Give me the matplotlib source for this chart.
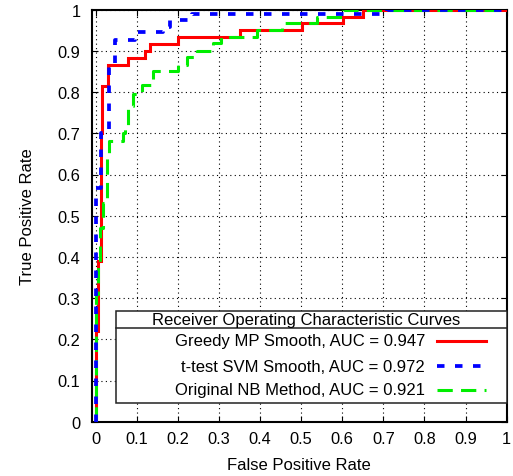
import matplotlib
matplotlib.use("Agg")
import matplotlib.pyplot as plt
from matplotlib.lines import Line2D
from matplotlib.patches import Rectangle

plt.rcParams['font.family'] = ['Liberation Sans', 'DejaVu Sans']

# ROC step vertices (FPR, TPR)
greedy_fpr = [0, 0, 0.006, 0.013, 0.016, 0.031, 0.080, 0.120, 0.132, 0.200, 0.351, 0.501, 0.601, 0.650, 1.0]
greedy_tpr = [0, 0.22, 0.39, 0.70, 0.816, 0.866, 0.882, 0.900, 0.917, 0.933, 0.950, 0.967, 0.983, 1.0, 1.0]

svm_fpr = [0, 0, 0.014, 0.032, 0.048, 0.097, 0.165, 0.180, 0.234, 0.710, 1.0]
svm_tpr = [0, 0.567, 0.70, 0.861, 0.926, 0.947, 0.959, 0.974, 0.990, 1.0, 1.0]

nb_fpr = [0.002, 0.002, 0.006, 0.011, 0.018, 0.027, 0.032, 0.066, 0.072, 0.079, 0.092, 0.112,
          0.139, 0.200, 0.222, 0.246, 0.286, 0.305, 0.393, 0.454, 0.539, 0.601, 1.0]
nb_tpr = [0, 0.31, 0.38, 0.47, 0.53, 0.65, 0.682, 0.70, 0.715, 0.767, 0.795, 0.817,
          0.852, 0.866, 0.885, 0.900, 0.918, 0.933, 0.951, 0.967, 0.983, 1.0, 1.0]

labels = ["Greedy MP Smooth, AUC = 0.947",
          "t-test SVM Smooth, AUC = 0.972",
          "Original NB Method, AUC = 0.921"]
legend_title = "Receiver Operating Characteristic Curves"
ticks = [0, 0.1, 0.2, 0.3, 0.4, 0.5, 0.6, 0.7, 0.8, 0.9, 1.0]
tick_labels = ["0", "0.1", "0.2", "0.3", "0.4", "0.5", "0.6", "0.7", "0.8", "0.9", "1"]

styles = [
    dict(color='#ff0000', lw=2.2, linestyle='-', zorder=3),
    dict(color='#0000ff', lw=2.7, linestyle=(0, (2.0, 2.8)), zorder=5),
    dict(color='#00ee00', lw=2.2, linestyle=(0, (5.0, 2.7)), zorder=4),
]

fig = plt.figure(figsize=(5.13, 4.77), dpi=100)
ax = fig.add_axes([91.5 / 513, (477 - 422.7) / 477, 415.2 / 513, 412 / 477])

series = [(greedy_fpr, greedy_tpr), (svm_fpr, svm_tpr), (nb_fpr, nb_tpr)]
for (fx, ty), st in zip(series, styles):
    ax.step(fx, ty, where='post', solid_joinstyle='miter', **st)

ax.set_xlim(-0.01, 1.0)
ax.set_ylim(0, 1.0)
ax.set_xticks(ticks)
ax.set_xticklabels(tick_labels)
ax.set_yticks(ticks)
ax.set_yticklabels(tick_labels)
ax.tick_params(direction='in', length=4.3, width=0.8, top=True, right=True,
               labelsize=11.8, colors='black')
ax.tick_params(axis='x', pad=7)
ax.tick_params(axis='y', pad=8)
for s in ax.spines.values():
    s.set_linewidth(1.5)
ax.grid(True, color='black', linestyle=(0, (1, 3)), linewidth=0.8)
ax.set_axisbelow(True)

ax.set_xlabel("False Positive Rate", fontsize=12, labelpad=7.5)
ax.set_ylabel("True Positive Rate", fontsize=12, labelpad=16)

# key box (gnuplot-style: right-aligned text followed by sample)
tr = ax.transAxes
ax.add_patch(Rectangle((0.059, 0.045), 0.941, 0.224, transform=tr, facecolor='white',
                       edgecolor='#222222', lw=1.1, zorder=10, clip_on=False))
ax.add_line(Line2D([0.059, 1.0], [0.227, 0.227], transform=tr, color='#222222', lw=1.1,
                   zorder=11, clip_on=False))
ax.text(0.516, 0.248, legend_title, transform=tr, ha='center', va='center', fontsize=12, zorder=12)
rows = [0.196, 0.135, 0.077]
for lab, st, yr in zip(labels, styles, rows):
    ax.text(0.803, yr, lab, transform=tr, ha='right', va='center', fontsize=12, zorder=12)
    st2 = dict(st)
    st2['zorder'] = 12
    ax.add_line(Line2D([0.832, 0.950], [yr, yr], transform=tr, clip_on=False, **st2))

fig.savefig("out.png", dpi=100)
